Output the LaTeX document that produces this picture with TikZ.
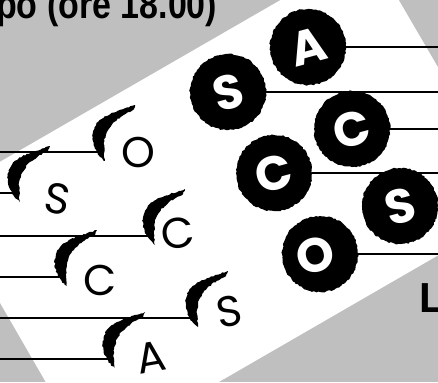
\documentclass[tikz,border=0pt]{standalone}
\usepackage{fontspec}
\setmainfont{Liberation Sans}
\newfontfamily\geofont{Poppins}
\usepackage{graphicx}
\usetikzlibrary{decorations.pathmorphing}

\begin{document}
\begin{tikzpicture}[x=1pt, y=-1pt]

  %% Frame and halftone background
  \useasboundingbox (0,0) rectangle (438,382);
  \clip (0,0) rectangle (438,382);
  \fill[black!25] (0,0) rectangle (438,382);

  %% Tilted white card
  \fill[white] (-61,197) -- (369,-51) -- (520,208) -- (89,457) -- cycle;

  %% Headings
  \node[font=\fontsize{40}{40}\selectfont\bfseries, anchor=base west, inner sep=0, xscale=0.85]
    (title) at (-4,19) {po (ore 18.00)};
  \node[font=\fontsize{42}{42}\selectfont\bfseries, anchor=base west, inner sep=0]
    (tag) at (419,312) {L};

  \coordinate (ledge) at (0,0);
  \coordinate (redge) at (438,0);

  \tikzset{
    rough/.style={decorate, decoration={random steps, segment length=2pt, amplitude=0.7pt}},
    stave/.style={line width=1.6pt},
    outline/.style={font=\geofont\fontsize{43}{43}\selectfont, inner sep=0},
    disc/.style={circle, fill=black, minimum size=76pt, inner sep=0, rough,
      text=white, font=\geofont\bfseries\fontsize{48}{48}\selectfont},
    swoosh/.pic={
      \fill[rough] (5,9) .. controls (-8,0) and (-12,-22) .. (0,-32)
        .. controls (10,-40) and (22,-42) .. (35,-47) -- (33,-42)
        .. controls (22,-37) and (12,-30) .. (7,-20)
        .. controls (3,-12) and (4,0) .. (5,9) -- cycle;
    }
  }

  %% Left side: staves, swooshes and outline letters
  \foreach \i/\fx/\fy/\lx/\ly/\rot/\ch in {
    1/100/152/138/152/0/O,
    2/15/193/58/199/-10/S,
    3/150/236/178/233/8/C,
    4/62/277/100/280/0/C,
    5/193/318/229/312/10/S,
    6/110/359/151/357/10/A
  }{
    \coordinate (f\i) at (\fx,\fy);
    \draw[stave] (f\i -| ledge) -- (f\i);
    \pic at (f\i) {swoosh};
    \node[outline, rotate=\rot] (n\i) at (\lx,\ly) {\ch};
  }

  %% Right side: black discs with white letters
  \foreach \i/\x/\y/\ch in {
    1/308/47/A, 2/228/92/S, 3/352/129/C,
    4/274/173/C, 5/400/206/S, 6/320/254/O
  }{
    \node[disc] (d\i) at (\x,\y) {\rotatebox{15}{\ch}};
    \draw[line width=2pt] (d\i.east) -- (d\i.east -| redge);
  }

\end{tikzpicture}
\end{document}
